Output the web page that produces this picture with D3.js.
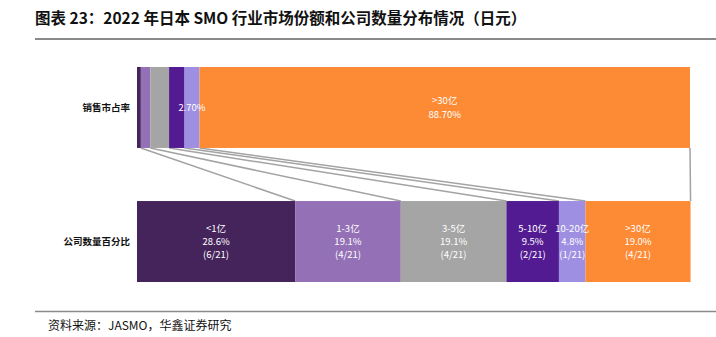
<!DOCTYPE html>
<html><head><meta charset="utf-8">
<script src="https://cdn.jsdelivr.net/npm/d3@7"></script>
<style>body{margin:0;background:#fff}svg{display:block}</style>
</head><body>
<svg id="c" width="716" height="337"></svg>
<script>
const categories = ["<1亿", "1-3亿", "3-5亿", "5-10亿", "10-20亿", ">30亿"];
const shareValues = [0.7, 1.7, 3.4, 2.8, 2.7, 88.7];
const shareLabels = [null, null, null, null, ["2.70%"], [">30亿", "88.70%"]];
const countPercents = [28.6, 19.1, 19.1, 9.5, 4.8, 19.0];
const countLabels = ["(6/21)", "(4/21)", "(4/21)", "(2/21)", "(1/21)", "(4/21)"];
const rowNames = ["销售市占率", "公司数量百分比"];
const colors = ["#45235b", "#9471b6", "#a5a5a5", "#531b92", "#9e8fe2", "#fd8b36"];
const titleText = "图表 23：2022 年日本 SMO 行业市场份额和公司数量分布情况（日元）";
const sourceText = "资料来源：JASMO，华鑫证券研究";

const svg = d3.select("#c");
const font = "'Noto Sans CJK SC', 'Noto Sans', sans-serif";

// title + rules
svg.append("text").attr("x", 35).attr("y", 24).text(titleText)
  .attr("font-family", font).attr("font-weight", "bold").attr("font-size", 15.5).attr("fill", "#111");
svg.append("line").attr("x1", 35).attr("x2", 716).attr("y1", 39).attr("y2", 39)
  .attr("stroke", "#8a8a8a").attr("stroke-width", 2);
svg.append("line").attr("x1", 35).attr("x2", 716).attr("y1", 311.5).attr("y2", 311.5)
  .attr("stroke", "#8a8a8a").attr("stroke-width", 1.5);
svg.append("text").attr("x", 48).attr("y", 330).text(sourceText)
  .attr("font-family", font).attr("font-size", 12).attr("fill", "#111");

const x = d3.scaleLinear().domain([0, 100]).range([137, 690]);
const y = d3.scaleBand().domain(rowNames).range([67, 282]).paddingInner(0.396).paddingOuter(0);
const bh = y.bandwidth();

function cum(arr) { let s = 0; return arr.map(v => { const a = s; s += v; return [a, s]; }); }
const topCum = cum(shareValues);
const botCum = cum(countPercents);

// connectors
const yTopBottom = y(rowNames[0]) + bh;
const yBotTop = y(rowNames[1]);
svg.append("g").selectAll("line").data(d3.range(1, categories.length + 1)).join("line")
  .attr("x1", i => x(topCum[i - 1][1])).attr("x2", i => x(botCum[i - 1][1]))
  .attr("y1", yTopBottom).attr("y2", yBotTop)
  .attr("stroke", "#a3a3a3").attr("stroke-width", 1.5);

// top bar
svg.append("g").selectAll("rect").data(topCum).join("rect")
  .attr("x", d => x(d[0])).attr("width", d => x(d[1]) - x(d[0]))
  .attr("y", y(rowNames[0])).attr("height", bh)
  .attr("fill", (d, i) => colors[i]);
// bottom bar
svg.append("g").selectAll("rect").data(botCum).join("rect")
  .attr("x", d => x(d[0])).attr("width", d => x(d[1]) - x(d[0]))
  .attr("y", y(rowNames[1])).attr("height", bh)
  .attr("fill", (d, i) => colors[i]);

// top labels
topCum.forEach((d, i) => {
  const lines = shareLabels[i];
  if (!lines) return;
  const cx = (x(d[0]) + x(d[1])) / 2;
  const cy = y(rowNames[0]) + bh / 2;
  const lh = 14;
  lines.forEach((t, j) => {
    svg.append("text").attr("x", cx).attr("y", cy + (j - (lines.length - 1) / 2) * lh + 3.5)
      .attr("text-anchor", "middle").text(t)
      .attr("font-family", font).attr("font-size", 9.5).attr("fill", "#fff");
  });
});
// bottom labels
botCum.forEach((d, i) => {
  const lines = [categories[i], countPercents[i].toFixed(1) + "%", countLabels[i]];
  const cx = (x(d[0]) + x(d[1])) / 2;
  const cy = y(rowNames[1]) + bh / 2;
  const lh = 13;
  lines.forEach((t, j) => {
    svg.append("text").attr("x", cx).attr("y", cy + (j - 1) * lh + 3.5)
      .attr("text-anchor", "middle").text(t)
      .attr("font-family", font).attr("font-size", 9.5).attr("fill", "#fff");
  });
});

// row labels
svg.append("g").selectAll("text").data(rowNames).join("text")
  .attr("x", 130).attr("y", d => y(d) + bh / 2 + 3.5)
  .attr("text-anchor", "end").text(d => d)
  .attr("font-family", font).attr("font-weight", "bold").attr("font-size", 9.5).attr("fill", "#111");
</script>
</body></html>
